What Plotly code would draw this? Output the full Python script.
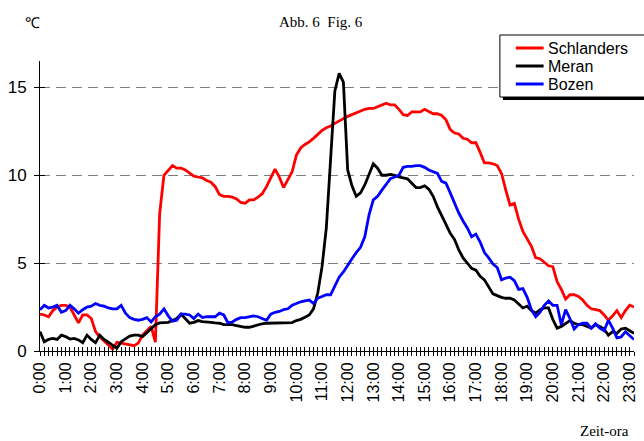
import plotly.graph_objects as go

# ---- data (10-minute readings, 0:00 .. 23:10) ----
series_names = ["Schlanders", "Meran", "Bozen"]
series_colors = ["#FF0000", "#000000", "#0000FF"]

schlanders = [2.1,2.05,1.95,2.3,2.5,2.6, 2.6,2.5,2.05,1.6,2.05,2.05, 1.85,1.1,0.8,0.6,0.35,0.1,
              0.5,0.45,0.4,0.35,0.3,0.45, 0.9,1.15,1.4,0.5,7.8,10.0, 10.3,10.55,10.4,10.4,10.3,10.1,
              9.95,9.9,9.85,9.7,9.6,9.35, 8.9,8.8,8.8,8.75,8.65,8.45, 8.4,8.6,8.6,8.75,8.95,9.35,
              9.85,10.35,9.9,9.3,9.75,10.2, 11.15,11.55,11.75,11.9,12.1,12.35, 12.55,12.7,12.8,12.95,13.1,13.25,
              13.35,13.45,13.55,13.65,13.75,13.8, 13.8,13.9,14.0,14.1,14.0,14.0, 13.75,13.45,13.4,13.6,13.6,13.6,
              13.75,13.6,13.5,13.5,13.4,13.15, 12.6,12.4,12.35,12.1,12.05,11.85, 11.85,11.3,10.7,10.7,10.65,10.55,
              10.1,9.15,8.3,8.4,7.5,6.8, 6.4,5.95,5.3,5.25,5.05,4.85, 4.8,3.95,3.5,2.95,3.2,3.2,
              3.1,2.9,2.6,2.4,2.35,2.3, 2.05,1.75,2.0,2.3,1.9,2.3, 2.6,2.5]

meran = [1.1,0.53,0.66,0.72,0.66,0.9, 0.82,0.68,0.72,0.63,0.47,0.9, 0.66,0.47,0.9,0.66,0.5,0.34,
         0.15,0.53,0.7,0.85,0.9,0.9, 0.82,1.05,1.25,1.5,1.6,1.63, 1.63,1.73,1.85,2.1,1.85,1.58,
         1.63,1.73,1.67,1.63,1.63,1.6, 1.58,1.5,1.5,1.5,1.45,1.4, 1.35,1.35,1.42,1.45,1.55,1.58,
         1.58,1.58,1.58,1.58,1.58,1.62, 1.73,1.8,1.92,2.05,2.4,3.3, 4.8,7.0,10.9,14.8,15.8,15.3,
         10.3,9.4,8.8,9.0,9.45,10.0, 10.65,10.4,10.0,10.0,10.05,10.0, 9.9,9.85,9.8,9.55,9.3,9.3,
         9.4,9.2,8.8,8.2,7.65,7.2, 6.7,6.35,5.75,5.3,5.0,4.7, 4.6,4.25,4.05,3.65,3.25,3.15,
         3.05,3.0,3.0,2.9,2.7,2.45, 2.55,2.3,2.15,2.35,2.45,2.45, 1.8,1.3,1.4,1.58,1.73,1.58,
         1.5,1.5,1.4,1.3,1.5,1.4, 1.25,0.9,1.1,1.0,1.25,1.3, 1.15,1.0]

bozen = [2.35,2.6,2.45,2.5,2.6,2.2, 2.3,2.6,2.4,2.15,2.35,2.5, 2.55,2.7,2.6,2.55,2.45,2.4,
         2.4,2.6,2.15,1.9,1.8,1.75, 1.8,1.9,1.65,1.95,2.1,2.4, 2.0,1.7,1.75,2.1,2.1,2.05,
         1.85,2.1,1.9,1.95,1.95,1.95, 2.15,2.05,1.6,1.65,1.8,1.9, 1.9,1.95,2.0,1.95,1.85,1.75,
         2.1,2.2,2.25,2.35,2.4,2.6, 2.7,2.8,2.85,2.9,2.7,3.0, 3.1,3.2,3.2,3.75,4.2,4.5,
         4.9,5.25,5.6,5.9,6.5,7.75, 8.6,8.8,9.15,9.45,9.8,9.9, 10.0,10.45,10.5,10.5,10.55,10.55,
         10.45,10.3,10.2,10.1,9.65,9.55, 9.0,8.4,7.85,7.4,7.0,6.5, 6.65,6.2,5.6,5.3,4.95,4.75,
         4.05,4.15,4.2,4.0,3.5,3.55, 3.05,2.35,1.95,2.2,2.6,2.85, 2.6,2.6,1.5,2.35,1.85,1.25,
         1.5,1.58,1.58,1.3,1.55,1.3, 1.15,1.75,1.3,0.75,0.8,1.1, 0.9,0.65]

hours = list(range(24))
hour_labels = [f"{h}:00" for h in hours]
y_ticks = [0, 5, 10, 15]

n = len(schlanders)
t = [i / 6 for i in range(n)]  # time in hours

# ---- geometry helpers (pixel -> paper) ----
W, H = 644, 441
L, R, T, B = 40, 638, 61, 351
def px(x):
    return (x - L) / (R - L)
def py(y):
    return (B - y) / (B - T)

SANS = "Liberation Sans, Arial, sans-serif"
SERIF = "Liberation Serif, Times New Roman, serif"

fig = go.Figure()
for name, vals, col in zip(series_names, [schlanders, meran, bozen], series_colors):
    fig.add_trace(go.Scatter(x=t, y=vals, mode="lines", name=name,
                             line=dict(color=col, width=2.8), showlegend=False))
# dummy trace for overlay axes (crossing tick marks)
fig.add_trace(go.Scatter(x=[None], y=[None], xaxis="x2", yaxis="y2",
                         showlegend=False, hoverinfo="skip"))

xr = [0, (n - 1) / 6]
yr = [0, 16.5]
fig.update_layout(
    width=W, height=H,
    margin=dict(l=L, r=W - R, t=T, b=H - B),
    plot_bgcolor="white", paper_bgcolor="white",
    showlegend=False,
    xaxis=dict(range=xr, showline=True, linecolor="black", linewidth=1,
               tickmode="array", tickvals=hours, ticktext=hour_labels,
               ticks="outside", ticklen=4, tickcolor="black", tickwidth=1,
               tickangle=-90, tickfont=dict(family=SANS, size=16, color="black"),
               showgrid=False, zeroline=False,
               minor=dict(dtick=1/6, tick0=0, ticks="outside", ticklen=4,
                          tickcolor="black", tickwidth=1, showgrid=False)),
    xaxis2=dict(range=xr, overlaying="x", anchor="y", side="bottom",
                showline=False, showgrid=False, zeroline=False,
                tickmode="linear", tick0=0, dtick=1/6, ticks="inside", ticklen=4,
                tickcolor="black", tickwidth=1, showticklabels=False),
    yaxis=dict(range=yr, showline=True, linecolor="black", linewidth=1,
               tickmode="array", tickvals=y_ticks,
               ticks="outside", ticklen=5, tickcolor="black",
               tickfont=dict(family=SANS, size=17, color="black"),
               showgrid=True, gridcolor="#7f7f7f", gridwidth=1, griddash="10px,6px",
               zeroline=False, ticklabelstandoff=4),
    yaxis2=dict(range=yr, overlaying="y", anchor="x", side="left",
                showline=False, showgrid=False, zeroline=False,
                tickmode="array", tickvals=y_ticks, ticks="inside", ticklen=5,
                tickcolor="black", showticklabels=False),
)

ann = [
    dict(text="Abb. 6  Fig. 6", x=px(323), y=py(22), font=dict(family=SERIF, size=15, color="black"),
         xanchor="center", yanchor="middle"),
    dict(text="℃", x=px(32), y=py(22), font=dict(family=SANS, size=15, color="black"),
         xanchor="center", yanchor="middle"),
    dict(text="Zeit-ora", x=px(608), y=py(431), font=dict(family=SERIF, size=15, color="black"),
         xanchor="center", yanchor="middle"),
]

# manual legend box with shadow
shapes = [
    dict(type="rect", xref="paper", yref="paper", x0=px(506), x1=px(655), y0=py(100), y1=py(38),
         fillcolor="black", line=dict(width=0), layer="above"),
    dict(type="rect", xref="paper", yref="paper", x0=px(503), x1=px(652), y0=py(97), y1=py(35),
         fillcolor="white", line=dict(color="black", width=1), layer="above"),
]
for k, (name, col) in enumerate(zip(series_names, series_colors)):
    yy = 48 + 18 * k
    shapes.append(dict(type="line", xref="paper", yref="paper", x0=px(519), x1=px(547),
                       y0=py(yy), y1=py(yy), line=dict(color=col, width=3), layer="above"))
    ann.append(dict(text=name, x=px(549), y=py(yy), xanchor="left", yanchor="middle",
                    font=dict(family=SANS, size=16, color="black")))

for a in ann:
    a.update(xref="paper", yref="paper", showarrow=False)
fig.update_layout(annotations=ann, shapes=shapes)

fig.write_html("out.html",
               config={"displayModeBar": False},
               post_script="document.body.style.margin='0';document.body.style.padding='0';")
